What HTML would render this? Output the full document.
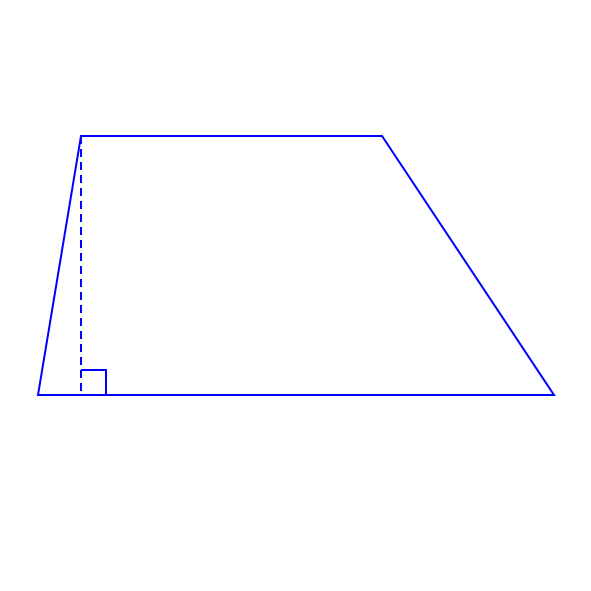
<!DOCTYPE html>
<html>
<head>
<meta charset="utf-8">
<style>
  html, body { margin: 0; padding: 0; background: #fff; }
  svg { display: block; }
</style>
</head>
<body>
<svg id="fig" width="591" height="591" viewBox="0 0 591 591">
  <rect width="591" height="591" fill="#fff"/>
</svg>
<script>
const vertexX = [38, 81, 382, 554];
const vertexY = [395, 136, 136, 395];
const heightFootX = [81];
const markSize = [25];

const svg = document.getElementById('fig');
const NS = 'http://www.w3.org/2000/svg';

const poly = document.createElementNS(NS, 'polygon');
poly.setAttribute('points', vertexX.map((x, i) => x + ',' + vertexY[i]).join(' '));
poly.setAttribute('fill', 'none');
poly.setAttribute('stroke', '#0000ff');
poly.setAttribute('stroke-width', '2');


svg.appendChild(poly);

const h = document.createElementNS(NS, 'line');
h.setAttribute('x1', heightFootX[0]);
h.setAttribute('y1', vertexY[1]);
h.setAttribute('x2', heightFootX[0]);
h.setAttribute('y2', vertexY[0]);
h.setAttribute('stroke', '#0000ff');
h.setAttribute('stroke-width', '2');
h.setAttribute('stroke-dasharray', '8,5');


svg.appendChild(h);

const s = markSize[0];
const ra = document.createElementNS(NS, 'polyline');
ra.setAttribute('points', `${heightFootX[0]},${vertexY[0]-s} ${heightFootX[0]+s},${vertexY[0]-s} ${heightFootX[0]+s},${vertexY[0]}`);
ra.setAttribute('fill', 'none');
ra.setAttribute('stroke', '#0000ff');
ra.setAttribute('stroke-width', '2');


svg.appendChild(ra);
</script>
</body>
</html>
